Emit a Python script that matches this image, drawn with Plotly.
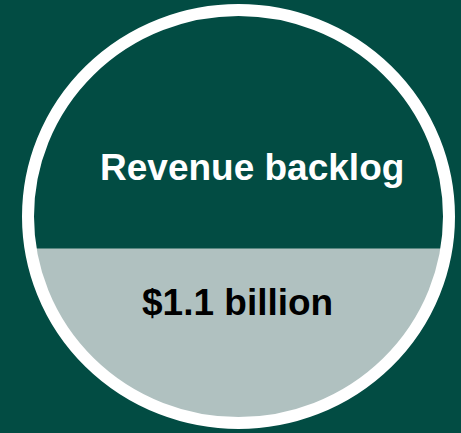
import numpy as np
import plotly.graph_objects as go

# Gauge content
title_text = "Revenue backlog"
value_text = "$1.1 billion"
fill_fraction = 0.42  # share of the dial filled from the bottom

W, H = 461, 433
BG = "#024c43"
FILL = "#b0c1c0"
RING = "#ffffff"

# Dial geometry in pixel units (axes map 1:1 onto the page)
cx, cy = 238.5, 216.5
rx, ry = 210.5, 206.5
ring_w = 12
inner_ry = ry - ring_w / 2

# Level of the filled part, measured from the bottom of the inner dial
level_y = cy + inner_ry - fill_fraction * 2 * inner_ry

# Outline of the filled cap: ellipse arc below the level line
t0 = np.arcsin(np.clip((level_y - cy) / ry, -1, 1))
t = np.linspace(t0, np.pi - t0, 200)
cap_x = cx + rx * np.cos(t)
cap_y = cy + ry * np.sin(t)

fig = go.Figure()
fig.add_trace(go.Scatter(
    x=np.append(cap_x, cap_x[0]), y=np.append(cap_y, cap_y[0]),
    mode="lines", fill="toself", fillcolor=FILL,
    line=dict(width=0, color=FILL), hoverinfo="skip", showlegend=False,
))

fig.add_shape(type="circle", xref="x", yref="y",
              x0=cx - rx, x1=cx + rx, y0=cy - ry, y1=cy + ry,
              line=dict(color=RING, width=ring_w), fillcolor="rgba(0,0,0,0)",
              layer="above")

font_family = "Liberation Sans, Arial, sans-serif"
fig.add_annotation(x=251.5, y=167, xref="x", yref="y", text=f"<b>{title_text}</b>",
                   showarrow=False, xanchor="center", yanchor="middle",
                   font=dict(family=font_family, size=37, color="#ffffff"))
fig.add_annotation(x=237, y=302, xref="x", yref="y", text=f"<b>{value_text}</b>",
                   showarrow=False, xanchor="center", yanchor="middle",
                   font=dict(family=font_family, size=37, color="#000000"))

fig.update_xaxes(range=[0, W], visible=False, fixedrange=True)
fig.update_yaxes(range=[H, 0], visible=False, fixedrange=True)
fig.update_layout(
    width=W, height=H, margin=dict(l=0, r=0, t=0, b=0),
    paper_bgcolor=BG, plot_bgcolor=BG,
)
fig.write_html("out.html", config={"displayModeBar": False})
